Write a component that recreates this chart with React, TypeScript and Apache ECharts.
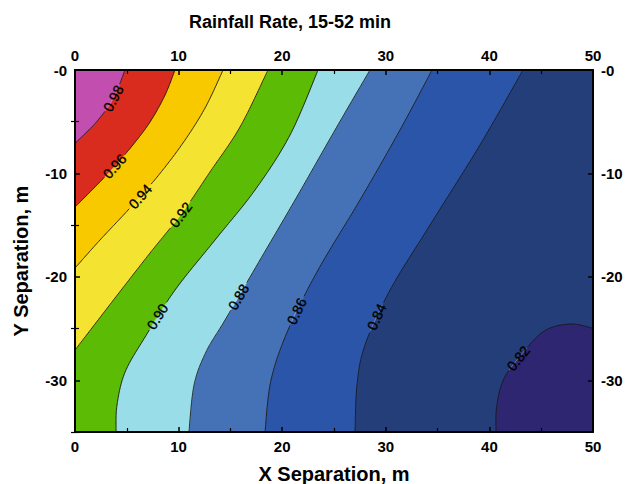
import React, { useEffect, useRef } from "react";
import * as echarts from "echarts";

// Contour levels of the rainfall-rate correlation field
const levels = [0.98, 0.96, 0.94, 0.92, 0.9, 0.88, 0.86, 0.84, 0.82];

// Contour lines as [x, y] in metres (x = X separation, y = Y separation)
const c098 = [[4.83, 0], [3.7, -2.74], [2.09, -5.0], [0, -7.09]];
const c096 = [[9.65, 0], [8.69, -2.42], [7.24, -5.03], [5.5, -7.35], [3.67, -9.48], [1.83, -11.41], [0, -13.25]];
const c094 = [[14.29, 0], [12.55, -3.68], [10.42, -7.06], [7.92, -10.35], [5.12, -13.54], [2.41, -16.44], [0, -19.15]];
const c092 = [[18.63, 0], [15.93, -5.51], [13.03, -9.86], [10.33, -13.83], [7.24, -17.7], [3.86, -22.05], [0, -27.08]];
const c090 = [[23.46, 0], [20.75, -6.29], [17.37, -11.61], [13.51, -16.44], [9.65, -21.28], [6.76, -25.82], [4.83, -29.21], [4.05, -32.4], [3.96, -35]];
const c088 = [[28.47, 0], [25.1, -5.8], [21.24, -12.57], [17.57, -18.86], [14.48, -24.18], [12.64, -27.27], [11.49, -30.46], [11.0, -35]];
const c086 = [[34.46, 0], [31.37, -5.8], [27.51, -12.57], [23.46, -19.34], [20.56, -25.15], [18.92, -29.98], [18.34, -35]];
const c084 = [[43.24, 0], [39.09, -7.25], [34.27, -14.99], [30.41, -21.28], [27.99, -26.6], [27.22, -30.46], [27.03, -35]];
const c082 = [[40.64, -35], [40.7, -32.56], [41.34, -29.98], [42.79, -27.88], [45.2, -25.3], [47.78, -24.56], [50, -24.98]];

const contours = [c098, c096, c094, c092, c090, c088, c086, c084, c082];

// Where each level's label sits along its contour [x, y]
const labelSpots = [
  [3.67, -2.71],
  [3.86, -9.38],
  [6.44, -12.25],
  [10.3, -14.0],
  [8.37, -24.0],
  [15.9, -21.9],
  [21.7, -23.4],
  [29.4, -23.9],
  [42.8, -27.9],
];

// Band colours from the highest band (> 0.98) down to the lowest (< 0.82)
const bandColors = [
  "#C24FB0", // > 0.98
  "#DA2C1E", // 0.96 - 0.98
  "#F9C900", // 0.94 - 0.96
  "#F5E332", // 0.92 - 0.94
  "#5CBB05", // 0.90 - 0.92
  "#99DDE8", // 0.88 - 0.90
  "#4572B7", // 0.86 - 0.88
  "#2B55A8", // 0.84 - 0.86
  "#243E79", // 0.82 - 0.84
  "#2F2672", // < 0.82
];

const xTicks = [0, 10, 20, 30, 40, 50];
const yTicks = [0, -10, -20, -30];
const yMinorTicks = [-5, -15, -25, -35];

const FONT = '"Liberation Sans", Arial, Helvetica, sans-serif';
const X_MIN = 0, X_MAX = 50, Y_MIN = -35, Y_MAX = 0;

type Pt = number[];

// Cubic Bezier control points of a Catmull-Rom spline through pixel points
function splineSegments(pts: Pt[]) {
  const segs: Pt[][] = [];
  for (let i = 0; i < pts.length - 1; i++) {
    const p0 = pts[i - 1] || pts[i];
    const p1 = pts[i];
    const p2 = pts[i + 1];
    const p3 = pts[i + 2] || p2;
    segs.push([
      p1,
      [p1[0] + (p2[0] - p0[0]) / 6, p1[1] + (p2[1] - p0[1]) / 6],
      [p2[0] - (p3[0] - p1[0]) / 6, p2[1] - (p3[1] - p1[1]) / 6],
      p2,
    ]);
  }
  return segs;
}

function splinePath(pts: Pt[]): string {
  let d = `M${pts[0][0]},${pts[0][1]}`;
  for (const [, c1, c2, e] of splineSegments(pts)) {
    d += ` C${c1[0]},${c1[1]} ${c2[0]},${c2[1]} ${e[0]},${e[1]}`;
  }
  return d;
}

// Dense polyline along the spline, used for stroking with a gap under the label
function splineSamples(pts: Pt[], steps = 24): Pt[] {
  const out: Pt[] = [];
  splineSegments(pts).forEach(([a, b, c, d], si) => {
    for (let s = si === 0 ? 0 : 1; s <= steps; s++) {
      const t = s / steps, u = 1 - t;
      out.push([
        u * u * u * a[0] + 3 * u * u * t * b[0] + 3 * u * t * t * c[0] + t * t * t * d[0],
        u * u * u * a[1] + 3 * u * u * t * b[1] + 3 * u * t * t * c[1] + t * t * t * d[1],
      ]);
    }
  });
  return out;
}

// Plot corners that close the region on the high-value side of a contour
function highSideCorners(line: Pt[]): Pt[] {
  const last = line[line.length - 1];
  const corners: Pt[] = [];
  if (last[1] <= Y_MIN + 1e-6) corners.push([X_MIN, Y_MIN]);
  corners.push([X_MIN, Y_MAX]);
  return corners;
}

const yLabel = (v: number) => (v === 0 ? "-0" : String(v));

export default function App() {
  const ref = useRef<HTMLDivElement>(null);

  useEffect(() => {
    if (!ref.current) return;
    const chart = echarts.init(ref.current, null, { renderer: "svg" });

    // Lowest band first (inside the 0.82 contour), then each higher band on top
    const fillOrder = [8, 7, 6, 5, 4, 3, 2, 1, 0];

    const axisLabelStyle = {
      color: "#000",
      fontFamily: FONT,
      fontWeight: "bold" as const,
      fontSize: 15,
    };

    const xAxisBase = (position: "top" | "bottom") => ({
      type: "value" as const,
      position,
      min: X_MIN,
      max: X_MAX,
      interval: 10,
      z: 10,
      axisLine: { show: true, onZero: false, lineStyle: { color: "#000", width: 2 } },
      axisTick: { show: true, inside: true, length: 5, lineStyle: { color: "#000", width: 1.5 } },
      minorTick: { show: true, splitNumber: 2, length: 4, lineStyle: { color: "#000", width: 1.2 } },
      axisLabel: { ...axisLabelStyle, margin: 7, customValues: xTicks },
      splitLine: { show: false },
      minorSplitLine: { show: false },
    });

    const yAxisMajor = (position: "left" | "right") => ({
      type: "value" as const,
      position,
      min: Y_MIN,
      max: Y_MAX,
      z: 10,
      axisLine: { show: true, onZero: false, lineStyle: { color: "#000", width: 2 } },
      axisTick: { show: true, inside: true, length: 5, customValues: yTicks, lineStyle: { color: "#000", width: 1.5 } },
      axisLabel: { ...axisLabelStyle, margin: 8, customValues: yTicks, formatter: yLabel },
      splitLine: { show: false },
    });

    const yAxisMinor = (position: "left" | "right") => ({
      type: "value" as const,
      position,
      min: Y_MIN,
      max: Y_MAX,
      z: 10,
      axisLine: { show: false },
      axisTick: { show: true, inside: true, length: 4, customValues: yMinorTicks, lineStyle: { color: "#000", width: 1.2 } },
      axisLabel: { show: false },
      splitLine: { show: false },
    });

    const textStyle = (text: string, size: number) => ({
      text,
      font: `bold ${size}px ${FONT}`,
      fill: "#000",
      align: "center",
      verticalAlign: "middle",
      textAlign: "center",
      textVerticalAlign: "middle",
    });

    chart.setOption({
      animation: false,
      backgroundColor: "#fff",
      grid: {
        left: 75,
        right: 35,
        top: 70,
        bottom: 52,
        show: true,
        backgroundColor: bandColors[8],
        borderWidth: 0,
      },
      xAxis: [xAxisBase("bottom"), xAxisBase("top")],
      yAxis: [yAxisMajor("left"), yAxisMinor("left"), yAxisMajor("right"), yAxisMinor("right")],
      graphic: [
        { type: "text", x: 290, y: 22, style: textStyle("Rainfall Rate, 15-52 min", 18) },
        { type: "text", x: 334, y: 474, style: textStyle("X Separation, m", 20) },
        { type: "text", x: 21, y: 261, rotation: Math.PI / 2, style: textStyle("Y Separation, m", 20) },
      ],
      series: [
        {
          // Filled contour bands
          type: "custom",
          name: "bands",
          coordinateSystem: "cartesian2d",
          xAxisIndex: 0,
          yAxisIndex: 0,
          clip: true,
          silent: true,
          z: 2,
          data: fillOrder.map((k) => [k]),
          renderItem: (params: any, api: any) => {
            const k = fillOrder[params.dataIndex];
            const line = contours[k];
            const px = line.map((p) => api.coord(p));
            let d: string;
            let color: string;
            if (k === 8) {
              // Inside the 0.82 contour: close through the lower-right corner
              const corner = api.coord([X_MAX, Y_MIN]);
              d = splinePath(px) + ` L${corner[0]},${corner[1]} Z`;
              color = bandColors[9];
            } else {
              const corners = highSideCorners(line).map((p) => api.coord(p));
              d = splinePath(px) + corners.map((c) => ` L${c[0]},${c[1]}`).join("") + " Z";
              color = bandColors[k];
            }
            return {
              type: "path",
              shape: { pathData: d },
              style: { fill: color, stroke: color, lineWidth: 0.5 },
            };
          },
        },
        {
          // Contour lines with their level labels; under each label the line turns faint
          type: "custom",
          name: "contours",
          coordinateSystem: "cartesian2d",
          xAxisIndex: 0,
          yAxisIndex: 0,
          clip: true,
          silent: true,
          z: 3,
          data: contours.map((_, k) => [k]),
          renderItem: (params: any, api: any) => {
            const k = params.dataIndex;
            const samples = splineSamples(contours[k].map((p) => api.coord(p)));
            const anchor = api.coord(labelSpots[k]);
            let j = 0;
            let best = Infinity;
            samples.forEach((s, i) => {
              const dd = (s[0] - anchor[0]) ** 2 + (s[1] - anchor[1]) ** 2;
              if (dd < best) { best = dd; j = i; }
            });
            const c = samples[j];
            const a = samples[Math.max(0, j - 3)];
            const b = samples[Math.min(samples.length - 1, j + 3)];
            let dx = b[0] - a[0];
            let dy = b[1] - a[1];
            if (dx < 0) { dx = -dx; dy = -dy; }
            const angle = Math.atan2(-dy, dx);
            const gap = 15;

            let dark = "";
            let faint = "";
            let penDark = false;
            let penFaint = false;
            for (const s of samples) {
              const pt = `${s[0].toFixed(2)},${s[1].toFixed(2)} `;
              const inGap = Math.hypot(s[0] - c[0], s[1] - c[1]) < gap;
              if (inGap) {
                faint += (penFaint ? "L" : "M") + pt;
                penFaint = true;
                penDark = false;
              } else {
                dark += (penDark ? "L" : "M") + pt;
                penDark = true;
                penFaint = false;
              }
            }

            return {
              type: "group",
              children: [
                {
                  type: "path",
                  shape: { pathData: dark },
                  style: { fill: "none", stroke: "#1a1a1a", lineWidth: 0.9 },
                },
                {
                  type: "path",
                  shape: { pathData: faint || "M0,0" },
                  style: { fill: "none", stroke: "rgba(255,255,255,0.45)", lineWidth: 0.7 },
                },
                {
                  type: "text",
                  x: c[0],
                  y: c[1],
                  rotation: angle,
                  style: {
                    text: levels[k].toFixed(2),
                    font: `14px ${FONT}`,
                    fill: "#000",
                    stroke: "#000",
                    lineWidth: 0.35,
                    align: "center",
                    verticalAlign: "middle",
                  },
                },
              ],
            };
          },
        },
      ],
    });

    return () => chart.dispose();
  }, []);

  return (
    <div
      ref={ref}
      style={{ position: "absolute", left: 0, top: 0, width: 628, height: 484 }}
    />
  );
}
